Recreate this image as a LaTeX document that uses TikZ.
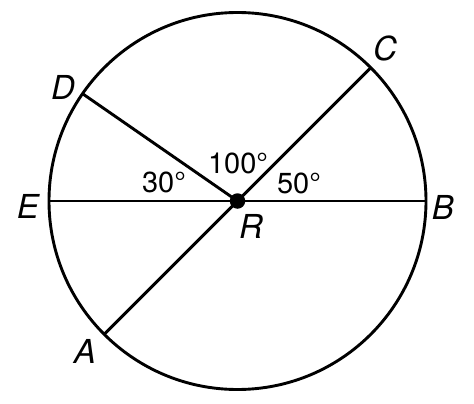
\documentclass[tikz,border=0pt]{standalone}
\usepackage{fontspec}
\setmainfont{TeX Gyre Heros}
\begin{document}
\begin{tikzpicture}[x=1pt,y=-1pt,
  ln/.style={line width=2.9pt},
  pt/.style={font=\fontsize{33}{33}\selectfont\itshape, inner sep=0pt},
  ang/.style={font=\fontsize{29}{29}\selectfont, inner sep=0pt}]
\useasboundingbox (0,0) rectangle (474,404);
\coordinate (Rc) at (237.5,201);
\draw[ln] (Rc) circle[radius=188.5];
\path (Rc) ++(188.5,0) coordinate (B);
\path (Rc) ++(-188.5,0) coordinate (E);
\path (Rc) ++({188.5*cos(45)},{-188.5*sin(45)}) coordinate (C);
\path (Rc) ++({188.5*cos(225)},{-188.5*sin(225)}) coordinate (A);
\path (Rc) ++({188.5*cos(145.3)},{-188.5*sin(145.3)}) coordinate (D);
\draw[ln] (E) -- (B);
\draw[ln] (A) -- (C);
\draw[ln] (Rc) -- (D);
\node[circle, fill=black, minimum size=15.5pt, inner sep=0pt] (R) at (Rc) {};
\node[pt] (lC) at (385,48) {C};
\node[pt] (lD) at (63,87) {D};
\node[pt] (lE) at (28,206) {E};
\node[pt] (lB) at (443,207) {B};
\node[pt] (lR) at (251,226) {R};
\node[pt] (lA) at (85,351) {A};
\node[ang] (a30) at (164,182) {30°};
\node[ang] (a100) at (238,163) {100°};
\node[ang] (a50) at (299,183) {50°};
\end{tikzpicture}
\end{document}
